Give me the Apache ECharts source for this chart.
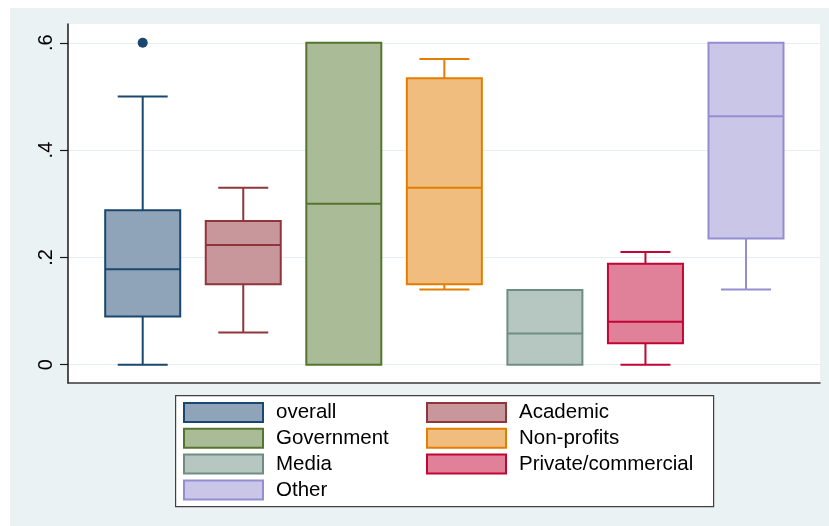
<!DOCTYPE html>
<html>
<head>
<meta charset="utf-8">
<script src="https://cdn.jsdelivr.net/npm/echarts@6/dist/echarts.min.js"></script>
<style>
  html, body { margin: 0; padding: 0; background: #ffffff; }
  #chart { position: absolute; left: 10px; top: 8px; width: 819px; height: 518px; }
</style>
</head>
<body>
<div id="chart"></div>
<script>
// Box plot summaries by group
const categories = ['overall', 'Academic', 'Government', 'Non-profits', 'Media', 'Private/commercial', 'Other'];
const lowerWhisker = [0.00, 0.06, 0.00, 0.14, 0.00, 0.00, 0.14];
const q1 = [0.09, 0.15, 0.00, 0.15, 0.00, 0.04, 0.235];
const median = [0.178, 0.223, 0.30, 0.33, 0.058, 0.08, 0.463];
const q3 = [0.288, 0.268, 0.60, 0.534, 0.139, 0.188, 0.60];
const upperWhisker = [0.50, 0.33, 0.60, 0.57, 0.139, 0.21, 0.60];
// outside values: [group position, value]
const outliers = [[1, 0.60]];

const yTickValues = [0, 0.2, 0.4, 0.6];
const yTickLabels = ['0', '.2', '.4', '.6'];

// Stata s2color-style outline and fill colours
const strokeColors = ['#1a476f', '#90353b', '#55752f', '#e37e00', '#6e8e84', '#c10534', '#938dd2'];
const fillColors = ['#8fa4b9', '#c8979b', '#aabb97', '#f0bd7f', '#b6c7c1', '#e08199', '#c9c6e8'];

const BOX_W = 0.746;   // box width in axis units
const CAP_W = 0.497;   // whisker cap width in axis units
const FONT = "'Liberation Sans', Arial, sans-serif";

function makeRenderer(stroke, fill) {
  return function (params, api) {
    const x = api.value(0);
    const pLo = api.coord([x, api.value(1)]);
    const pQ1 = api.coord([x, api.value(2)]);
    const pMed = api.coord([x, api.value(3)]);
    const pQ3 = api.coord([x, api.value(4)]);
    const pHi = api.coord([x, api.value(5)]);
    const bw = api.size([BOX_W, 0])[0];
    const cw = api.size([CAP_W, 0])[0];
    const cx = pMed[0];
    const lineStyle = { stroke: stroke, lineWidth: 2, fill: null };
    const children = [];
    if (api.value(5) > api.value(4)) {
      children.push({ type: 'line', shape: { x1: cx, y1: pQ3[1], x2: cx, y2: pHi[1] }, style: lineStyle });
      children.push({ type: 'line', shape: { x1: cx - cw / 2, y1: pHi[1], x2: cx + cw / 2, y2: pHi[1] }, style: lineStyle });
    }
    if (api.value(1) < api.value(2)) {
      children.push({ type: 'line', shape: { x1: cx, y1: pQ1[1], x2: cx, y2: pLo[1] }, style: lineStyle });
      children.push({ type: 'line', shape: { x1: cx - cw / 2, y1: pLo[1], x2: cx + cw / 2, y2: pLo[1] }, style: lineStyle });
    }
    children.push({
      type: 'rect',
      shape: { x: cx - bw / 2, y: pQ3[1], width: bw, height: pQ1[1] - pQ3[1] },
      style: { fill: fill, stroke: stroke, lineWidth: 2 }
    });
    children.push({ type: 'line', shape: { x1: cx - bw / 2, y1: pMed[1], x2: cx + bw / 2, y2: pMed[1] }, style: lineStyle });
    return { type: 'group', children: children };
  };
}

const boxSeries = categories.map(function (name, i) {
  return {
    type: 'custom',
    name: name,
    renderItem: makeRenderer(strokeColors[i], fillColors[i]),
    encode: { x: 0, y: [1, 2, 3, 4, 5] },
    itemStyle: { color: fillColors[i], borderColor: strokeColors[i], borderWidth: 2 },
    data: [[i + 1, lowerWhisker[i], q1[i], median[i], q3[i], upperWhisker[i]]],
    z: 3
  };
});

function legendItems(indices) {
  return indices.map(function (i) {
    return {
      name: categories[i],
      icon: 'rect',
      itemStyle: { color: fillColors[i], borderColor: strokeColors[i], borderWidth: 2 }
    };
  });
}

const legendCommon = {
  orient: 'vertical',
  top: 394,
  padding: 0,
  itemWidth: 79,
  itemHeight: 19,
  itemGap: 4.8,
  selectedMode: false,
  textStyle: { fontFamily: FONT, fontSize: 20.5, color: '#000', padding: [0, 0, 0, 8] }
};

const chart = echarts.init(document.getElementById('chart'), null, { renderer: 'canvas' });
chart.setOption({
  backgroundColor: '#eaf2f3',
  animation: false,
  grid: {
    left: 58, top: 16, right: 9, bottom: 143,
    show: true, backgroundColor: '#ffffff', borderWidth: 0
  },
  xAxis: {
    type: 'value',
    min: 0.257,
    max: 7.736,
    axisLine: { show: true, onZero: false, lineStyle: { color: '#3a3a3a', width: 1.5 } },
    axisTick: { show: false },
    axisLabel: { show: false },
    splitLine: { show: false }
  },
  yAxis: {
    type: 'value',
    min: -0.0341,
    max: 0.635,
    axisLine: { show: true, onZero: false, lineStyle: { color: '#1a1a1a', width: 1.5 } },
    axisTick: { show: true, length: 8, customValues: yTickValues, lineStyle: { color: '#1a1a1a', width: 1.2 } },
    axisLabel: {
      show: true,
      customValues: yTickValues,
      rotate: 90,
      margin: 12,
      fontFamily: FONT,
      fontSize: 20,
      color: '#000',
      formatter: function (v) {
        const k = yTickValues.findIndex(function (t) { return Math.abs(t - v) < 1e-9; });
        return k >= 0 ? yTickLabels[k] : '';
      }
    },
    splitLine: { show: true, lineStyle: { color: '#e6eef1', width: 1 } }
  },
  legend: [
    Object.assign({}, legendCommon, { left: 173, data: legendItems([0, 2, 4, 6]) }),
    Object.assign({}, legendCommon, { left: 416, data: legendItems([1, 3, 5]) })
  ],
  graphic: [{
    type: 'rect',
    left: 165, top: 387,
    shape: { width: 538, height: 111 },
    style: { fill: '#ffffff', stroke: '#404040', lineWidth: 1.2 },
    z: 0
  }],
  series: boxSeries.concat([{
    type: 'scatter',
    name: 'overall',
    data: outliers,
    symbol: 'circle',
    symbolSize: 10,
    itemStyle: { color: '#1a476f', opacity: 1 },
    z: 4
  }])
});
</script>
</body>
</html>
